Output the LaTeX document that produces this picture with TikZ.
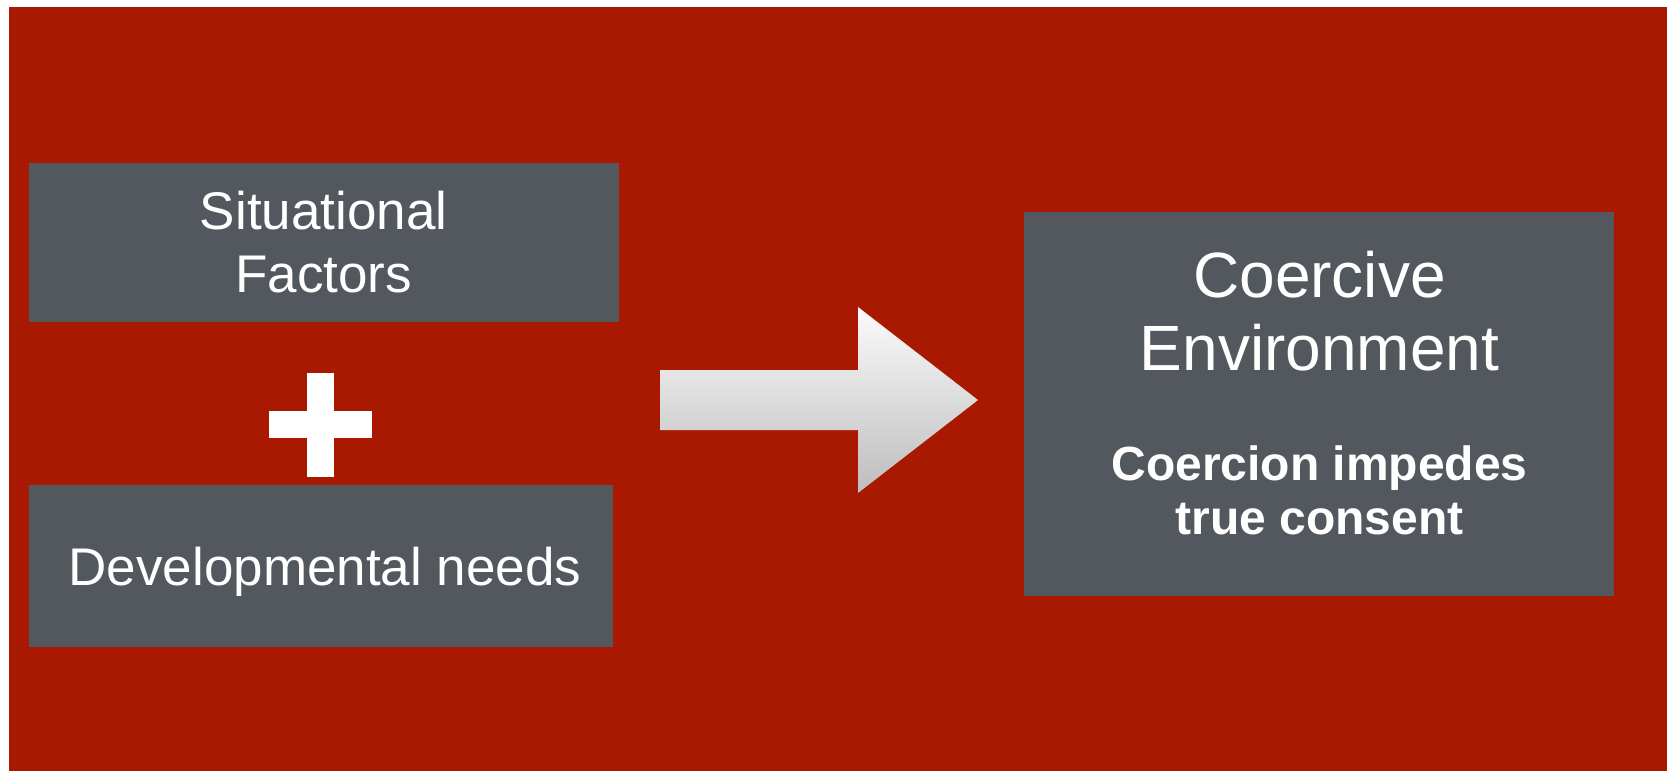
\documentclass[tikz,border=0pt]{standalone}
\usepackage{fontspec}
\setmainfont{Liberation Sans}
\definecolor{bgred}{HTML}{A91800}
\definecolor{boxgray}{HTML}{53585F}
\definecolor{arrowtop}{HTML}{FBFBFB}
\definecolor{arrowbot}{HTML}{BDBDBD}
\tikzset{
  graybox/.style={fill=boxgray, draw=none, inner sep=0pt, text=white, align=center},
  whitetext/.style={text=white, inner sep=0pt, align=center}
}
\begin{document}
\begin{tikzpicture}[x=1pt,y=-1pt]
\useasboundingbox (0,0) rectangle (1667,771);
\fill[white] (0,0) rectangle (1667,771);
\fill[bgred] (9,7) rectangle (1667,771);
% left boxes
\node[graybox, minimum width=590pt, minimum height=159.5pt,
      font=\fontsize{53}{62.7}\selectfont] (sf) at (323.7,242.4) {Situational\\Factors};
\node[graybox, minimum width=584.7pt, minimum height=162.6pt] (dn) at (321,566.1) {};
\node[whitetext, anchor=base, font=\fontsize{53}{62.7}\selectfont] (dntext) at (325,585.7) {Developmental needs};
% plus sign
\fill[white] (307,373) rectangle (333.5,476.5);
\fill[white] (269,411) rectangle (372,437.5);
% arrow
\shade[top color=arrowtop, bottom color=arrowbot]
  (660,370) -- (858,370) -- (858,307) -- (978,400) -- (858,493) -- (858,430) -- (660,430) -- cycle;
% right box
\node[graybox, minimum width=590pt, minimum height=384.8pt] (ce) at (1318.8,404) {};
\node[whitetext, font=\fontsize{64}{72.5}\selectfont] (cetitle) at (1319.5,311) {Coercive\\Environment};
\node[whitetext, font=\bfseries\fontsize{48}{54.2}\selectfont] (cesub) at (1319.5,490.3) {Coercion impedes\\true consent};
\end{tikzpicture}
\end{document}
